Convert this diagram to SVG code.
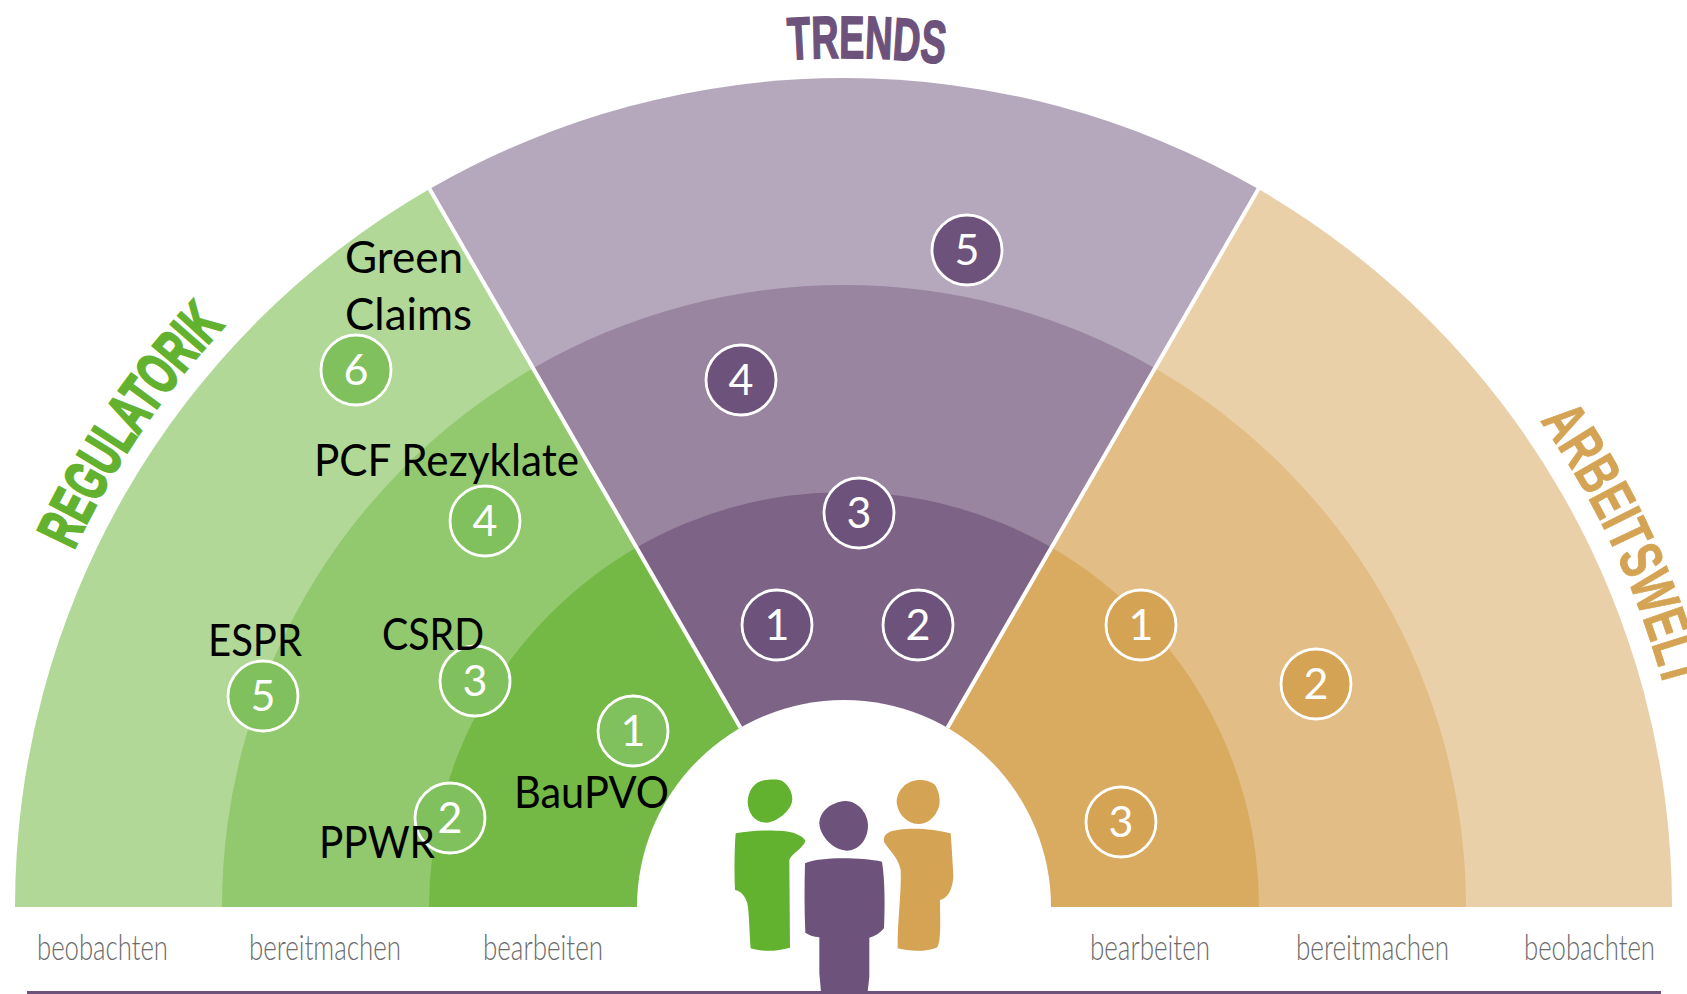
<svg xmlns="http://www.w3.org/2000/svg" width="1687" height="994" viewBox="0 0 1687 994">
<style>
.badge{stroke:#fff;stroke-width:2.8}
.num{font-family:"Lato","Open Sans",sans-serif;font-size:43px;fill:#fff;text-anchor:middle}
.lbl{font-family:"Lato","Open Sans",sans-serif;font-size:44px;fill:#000}
.axis{font-family:"Lato","Open Sans",sans-serif;font-weight:300;font-size:36px;fill:#6a6a6a}
.head{font-family:"Liberation Sans Narrow","Liberation Sans",sans-serif;font-weight:700;font-size:60px}
.sep{stroke:#fff;stroke-width:4;fill:none}
.g{fill:#80c05d}.p{fill:#6d527c}.t{fill:#d4a354}
</style>
<defs>
<path id="arc" d="M-5 907A849 849 0 0 1 1693 907"/>
</defs>
<rect width="1687" height="994" fill="#fff"/>
<g id="sectors">
<path fill="#b1d897" d="M844 907H15A829 829 0 0 1 429.5 189.1Z"/>
<path fill="#92c96f" d="M844 907H222A622 622 0 0 1 533 368.3Z"/>
<path fill="#74b845" d="M844 907H429A415 415 0 0 1 636.5 547.6Z"/>
<path fill="#b5a8bc" d="M844 907L429.5 189.1A829 829 0 0 1 1258.5 189.1Z"/>
<path fill="#9a85a0" d="M844 907L533 368.3A622 622 0 0 1 1155 368.3Z"/>
<path fill="#7d6386" d="M844 907L636.5 547.6A415 415 0 0 1 1051.5 547.6Z"/>
<path fill="#ead0a8" d="M844 907L1258.5 189.1A829 829 0 0 1 1672 907Z"/>
<path fill="#e2bd85" d="M844 907L1155 368.3A622 622 0 0 1 1466 907Z"/>
<path fill="#d8ab61" d="M844 907L1051.5 547.6A415 415 0 0 1 1259 907Z"/>
</g>
<g id="separators">
<path class="sep" d="M740.5 727.7L429 188M947.5 727.7L1259 188"/>
</g>
<g id="centre">
<path fill="#fff" d="M637 907A207 207 0 0 1 1051 907Z"/>
<g transform="translate(620 680) scale(.33333)">
<path fill="#62b22f" d="M440 300C460 298 480 298 490 305C510 320 520 345 516 365C510 395 470 425 440 428C405 428 384 400 383 365C385 330 405 302 440 300Z"/>
<path fill="#62b22f" d="M347 460C400 450 480 448 520 458C540 465 555 475 556 483C550 505 515 520 508 540L510 803C470 815 420 815 392 805C388 760 388 700 382 670C375 645 360 632 345 630C342 570 344 500 347 460Z"/>
<path fill="#d4a354" d="M895 300C915 298 935 305 945 315C958 335 962 360 957 380C945 415 920 432 895 432C860 430 832 400 830 365C832 330 860 302 895 300Z"/>
<path fill="#d4a354" d="M992 460C940 445 850 440 810 455C795 462 790 472 792 485C805 510 835 530 842 570C845 640 832 720 833 805C870 815 920 815 950 803C965 790 960 720 960 660C985 655 998 625 1000 590C998 545 995 500 992 460Z"/>
<path fill="#6d527c" d="M675 363C710 362 742 395 744 435C744 480 715 512 680 512C640 510 600 470 598 430C598 395 635 365 675 363Z"/>
<path fill="#6d527c" d="M555 550C600 530 720 532 786 545C795 600 795 680 792 745C780 760 765 768 748 773L748 890L743 935L603 935L598 880L598 772C580 770 565 765 556 758C553 690 553 620 555 550Z"/>
</g>
</g>
<rect id="baseline" x="27" y="991" width="1634" height="3" fill="#6d527c"/>
<g id="headings">
<text class="head" fill="#62b22f" stroke="#62b22f" stroke-width="2.4" textLength="272" lengthAdjust="spacingAndGlyphs"><textPath href="#arc" startOffset="368">REGULATORIK</textPath></text>
<text class="head" fill="#6d527c" stroke="#6d527c" stroke-width="1.6" textLength="156" lengthAdjust="spacingAndGlyphs"><textPath href="#arc" startOffset="1278">TRENDS</textPath></text>
<text class="head" fill="#d4a354" stroke="#d4a354" stroke-width="0.8" textLength="298" lengthAdjust="spacingAndGlyphs"><textPath href="#arc" startOffset="2149">ARBEITSWELT</textPath></text>
</g>
<g id="axis-labels">
<text class="axis" x="37" y="960" textLength="131" lengthAdjust="spacingAndGlyphs">beobachten</text>
<text class="axis" x="249" y="960" textLength="152" lengthAdjust="spacingAndGlyphs">bereitmachen</text>
<text class="axis" x="483" y="960" textLength="120" lengthAdjust="spacingAndGlyphs">bearbeiten</text>
<text class="axis" x="1090" y="960" textLength="120" lengthAdjust="spacingAndGlyphs">bearbeiten</text>
<text class="axis" x="1296" y="960" textLength="153" lengthAdjust="spacingAndGlyphs">bereitmachen</text>
<text class="axis" x="1524" y="960" textLength="131" lengthAdjust="spacingAndGlyphs">beobachten</text>
</g>
<g id="node-green-claims"><circle class="badge g" cx="356" cy="370" r="35"/><text class="num" x="356" y="385">6</text>
<text class="lbl" x="345" y="273" textLength="118" lengthAdjust="spacingAndGlyphs">Green</text><text class="lbl" x="345" y="330" textLength="127" lengthAdjust="spacingAndGlyphs">Claims</text></g>
<g id="node-pcf"><circle class="badge g" cx="485" cy="521" r="35"/><text class="num" x="485" y="536">4</text>
<text class="lbl" x="314" y="476" textLength="265" lengthAdjust="spacingAndGlyphs">PCF Rezyklate</text></g>
<g id="node-espr"><circle class="badge g" cx="263" cy="696" r="35"/><text class="num" x="263" y="711">5</text>
<text class="lbl" x="208" y="656" textLength="94" lengthAdjust="spacingAndGlyphs">ESPR</text></g>
<g id="node-csrd"><circle class="badge g" cx="475" cy="681" r="35"/><text class="num" x="475" y="696">3</text>
<text class="lbl" x="382" y="650" textLength="102" lengthAdjust="spacingAndGlyphs">CSRD</text></g>
<g id="node-baupvo"><circle class="badge g" cx="633" cy="731" r="35"/><text class="num" x="633" y="746">1</text>
<text class="lbl" x="514" y="808" textLength="155" lengthAdjust="spacingAndGlyphs">BauPVO</text></g>
<g id="node-ppwr"><circle class="badge g" cx="450" cy="818" r="35"/><text class="num" x="450" y="833">2</text>
<text class="lbl" x="319" y="858" textLength="116" lengthAdjust="spacingAndGlyphs">PPWR</text></g>
<g id="node-trend-5"><circle class="badge p" cx="967" cy="250" r="35"/><text class="num" x="967" y="265">5</text></g>
<g id="node-trend-4"><circle class="badge p" cx="741" cy="380" r="35"/><text class="num" x="741" y="395">4</text></g>
<g id="node-trend-3"><circle class="badge p" cx="859" cy="513" r="35"/><text class="num" x="859" y="528">3</text></g>
<g id="node-trend-1"><circle class="badge p" cx="777" cy="625" r="35"/><text class="num" x="777" y="640">1</text></g>
<g id="node-trend-2"><circle class="badge p" cx="918" cy="625" r="35"/><text class="num" x="918" y="640">2</text></g>
<g id="node-arbeit-1"><circle class="badge t" cx="1141" cy="625" r="35"/><text class="num" x="1141" y="640">1</text></g>
<g id="node-arbeit-2"><circle class="badge t" cx="1316" cy="684" r="35"/><text class="num" x="1316" y="699">2</text></g>
<g id="node-arbeit-3"><circle class="badge t" cx="1121" cy="822" r="35"/><text class="num" x="1121" y="837">3</text></g>
</svg>
